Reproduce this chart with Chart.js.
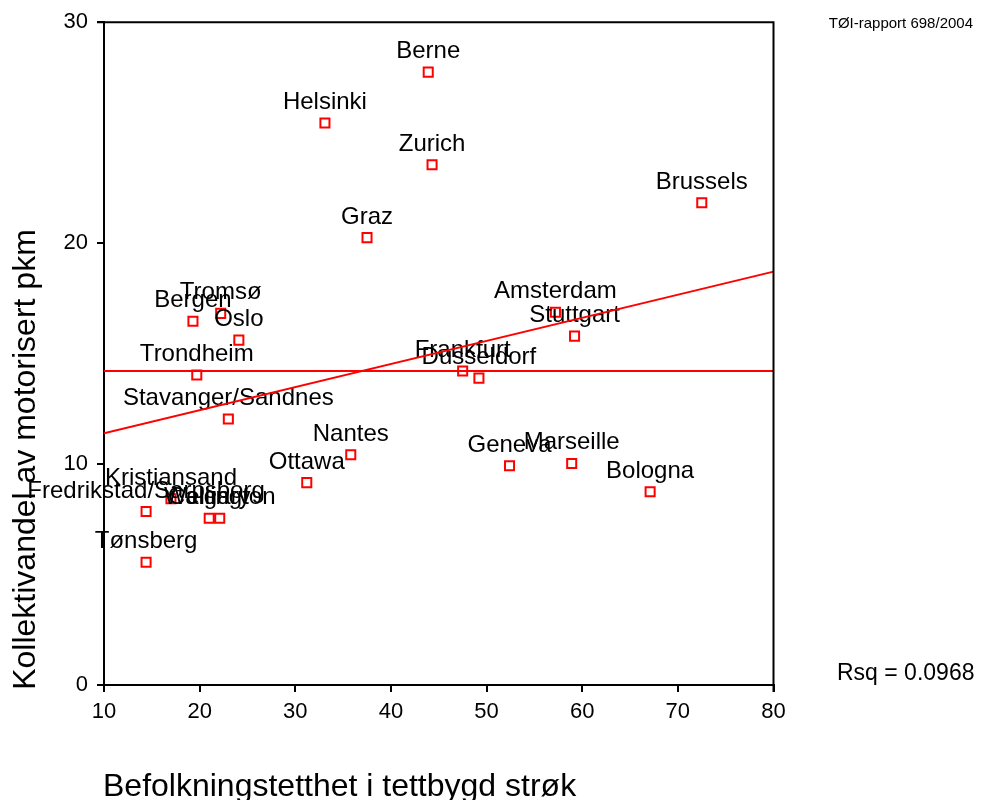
<!DOCTYPE html>
<html>
<head>
<meta charset="utf-8">
<script src="https://cdn.jsdelivr.net/npm/chart.js@4/dist/chart.umd.min.js"></script>
<style>
  html, body { margin: 0; padding: 0; background: #fff; }
  canvas { display: block; }
</style>
</head>
<body>
<canvas id="c" width="983" height="800"></canvas>
<script>
// Urban areas: population density vs. public transport share of motorised pkm
const cities = [
  "Berne", "Helsinki", "Zurich", "Brussels", "Graz",
  "Tromsø", "Bergen", "Oslo", "Trondheim", "Stavanger/Sandnes",
  "Amsterdam", "Stuttgart", "Frankfurt", "Dusseldorf", "Nantes",
  "Ottawa", "Geneva", "Marseille", "Bologna", "Kristiansand",
  "Fredrikstad/Sarpsborg", "Calgary", "Wellington", "Tønsberg"
];
const density = [
  43.9, 33.1, 44.3, 72.5, 37.5,
  22.2, 19.3, 24.1, 19.7, 23.0,
  57.2, 59.2, 47.5, 49.2, 35.8,
  31.2, 52.4, 58.9, 67.1, 17.0,
  14.4, 21.0, 22.1, 14.4
];
const ptShare = [
  27.74, 25.44, 23.55, 21.83, 20.25,
  16.82, 16.46, 15.61, 14.03, 12.04,
  16.87, 15.79, 14.21, 13.89, 10.42,
  9.16, 9.92, 10.03, 8.75, 8.43,
  7.85, 7.55, 7.55, 5.56
];

// Linear fit (end points) and the mean reference line
const fitX = [10, 80];
const fitY = [11.39, 18.71];
const meanX = [10, 80];
const meanY = [14.21, 14.21];

const xTicks = [10, 20, 30, 40, 50, 60, 70, 80];
const yTicks = [0, 10, 20, 30];

const FONT = '"Liberation Sans", Arial, Helvetica, sans-serif';

const toXY = (xs, ys) => xs.map((x, i) => ({ x: x, y: ys[i] }));

const pointLabels = {
  id: 'pointLabels',
  afterDatasetDraw(chart, args) {
    if (args.index !== 0) return;
    const ctx = chart.ctx;
    ctx.save();
    ctx.font = '24px ' + FONT;
    ctx.fillStyle = '#000';
    ctx.textAlign = 'center';
    ctx.textBaseline = 'alphabetic';
    args.meta.data.forEach((el, i) => {
      ctx.fillText(cities[i], el.x, el.y - 14);
    });
    ctx.restore();
  }
};

const frameAndText = {
  id: 'frameAndText',
  afterDraw(chart) {
    const ctx = chart.ctx;
    const a = chart.chartArea;
    ctx.save();
    // top and right frame
    ctx.strokeStyle = '#000';
    ctx.lineWidth = 2;
    ctx.beginPath();
    ctx.moveTo(a.left - 7, a.top);
    ctx.lineTo(a.right, a.top);
    ctx.lineTo(a.right, a.bottom + 7);
    ctx.stroke();

    ctx.fillStyle = '#000';
    // x axis title
    ctx.font = '32px ' + FONT;
    ctx.textAlign = 'left';
    ctx.textBaseline = 'alphabetic';
    ctx.fillText('Befolkningstetthet i tettbygd strøk', 103, 796);

    // y axis title
    ctx.save();
    ctx.translate(35, 459.5);
    ctx.rotate(-Math.PI / 2);
    ctx.textAlign = 'center';
    ctx.fillText('Kollektivandel av motorisert pkm', 0, 0);
    ctx.restore();

    // report tag
    ctx.font = '15px ' + FONT;
    ctx.textAlign = 'right';
    ctx.fillText('TØI-rapport 698/2004', 973, 28);

    // fit statistic
    ctx.font = '23px ' + FONT;
    ctx.textAlign = 'left';
    ctx.fillText('Rsq = 0.0968', 837, 680);
    ctx.restore();
  }
};

new Chart(document.getElementById('c'), {
  type: 'scatter',
  data: {
    datasets: [
      {
        label: 'Byer',
        data: toXY(density, ptShare),
        order: 3,
        pointStyle: 'rect',
        pointRadius: 6.4,
        pointHoverRadius: 6.4,
        pointBorderWidth: 2,
        pointBorderColor: '#ff0000',
        pointBackgroundColor: '#ffffff',
        showLine: false
      },
      {
        label: 'Gjennomsnitt',
        type: 'line',
        data: toXY(meanX, meanY),
        order: 2,
        borderColor: '#ff0000',
        borderWidth: 2,
        pointRadius: 0,
        fill: false
      },
      {
        label: 'Lineær tilpasning',
        type: 'line',
        data: toXY(fitX, fitY),
        order: 1,
        borderColor: '#ff0000',
        borderWidth: 2,
        pointRadius: 0,
        fill: false
      }
    ]
  },
  options: {
    responsive: false,
    animation: false,
    events: [],
    layout: { padding: { left: 0, right: 209.5, top: 19, bottom: 0 } },
    plugins: {
      legend: { display: false },
      tooltip: { enabled: false }
    },
    scales: {
      x: {
        type: 'linear',
        min: 10,
        max: 80,
        afterFit(scale) { scale.height = 115; },
        afterBuildTicks(scale) { scale.ticks = xTicks.map(v => ({ value: v })); },
        border: { display: true, color: '#000', width: 2 },
        grid: { drawOnChartArea: false, drawTicks: true, tickLength: 7, color: '#000', lineWidth: 2 },
        ticks: { color: '#000', font: { family: FONT, size: 22 }, padding: 7, maxRotation: 0 }
      },
      y: {
        type: 'linear',
        min: 0,
        max: 30,
        afterFit(scale) { scale.width = 104; },
        afterBuildTicks(scale) { scale.ticks = yTicks.map(v => ({ value: v })); },
        border: { display: true, color: '#000', width: 2 },
        grid: { drawOnChartArea: false, drawTicks: true, tickLength: 7, color: '#000', lineWidth: 2 },
        ticks: { color: '#000', font: { family: FONT, size: 22 }, padding: 9 }
      }
    }
  },
  plugins: [pointLabels, frameAndText]
});
</script>
</body>
</html>
